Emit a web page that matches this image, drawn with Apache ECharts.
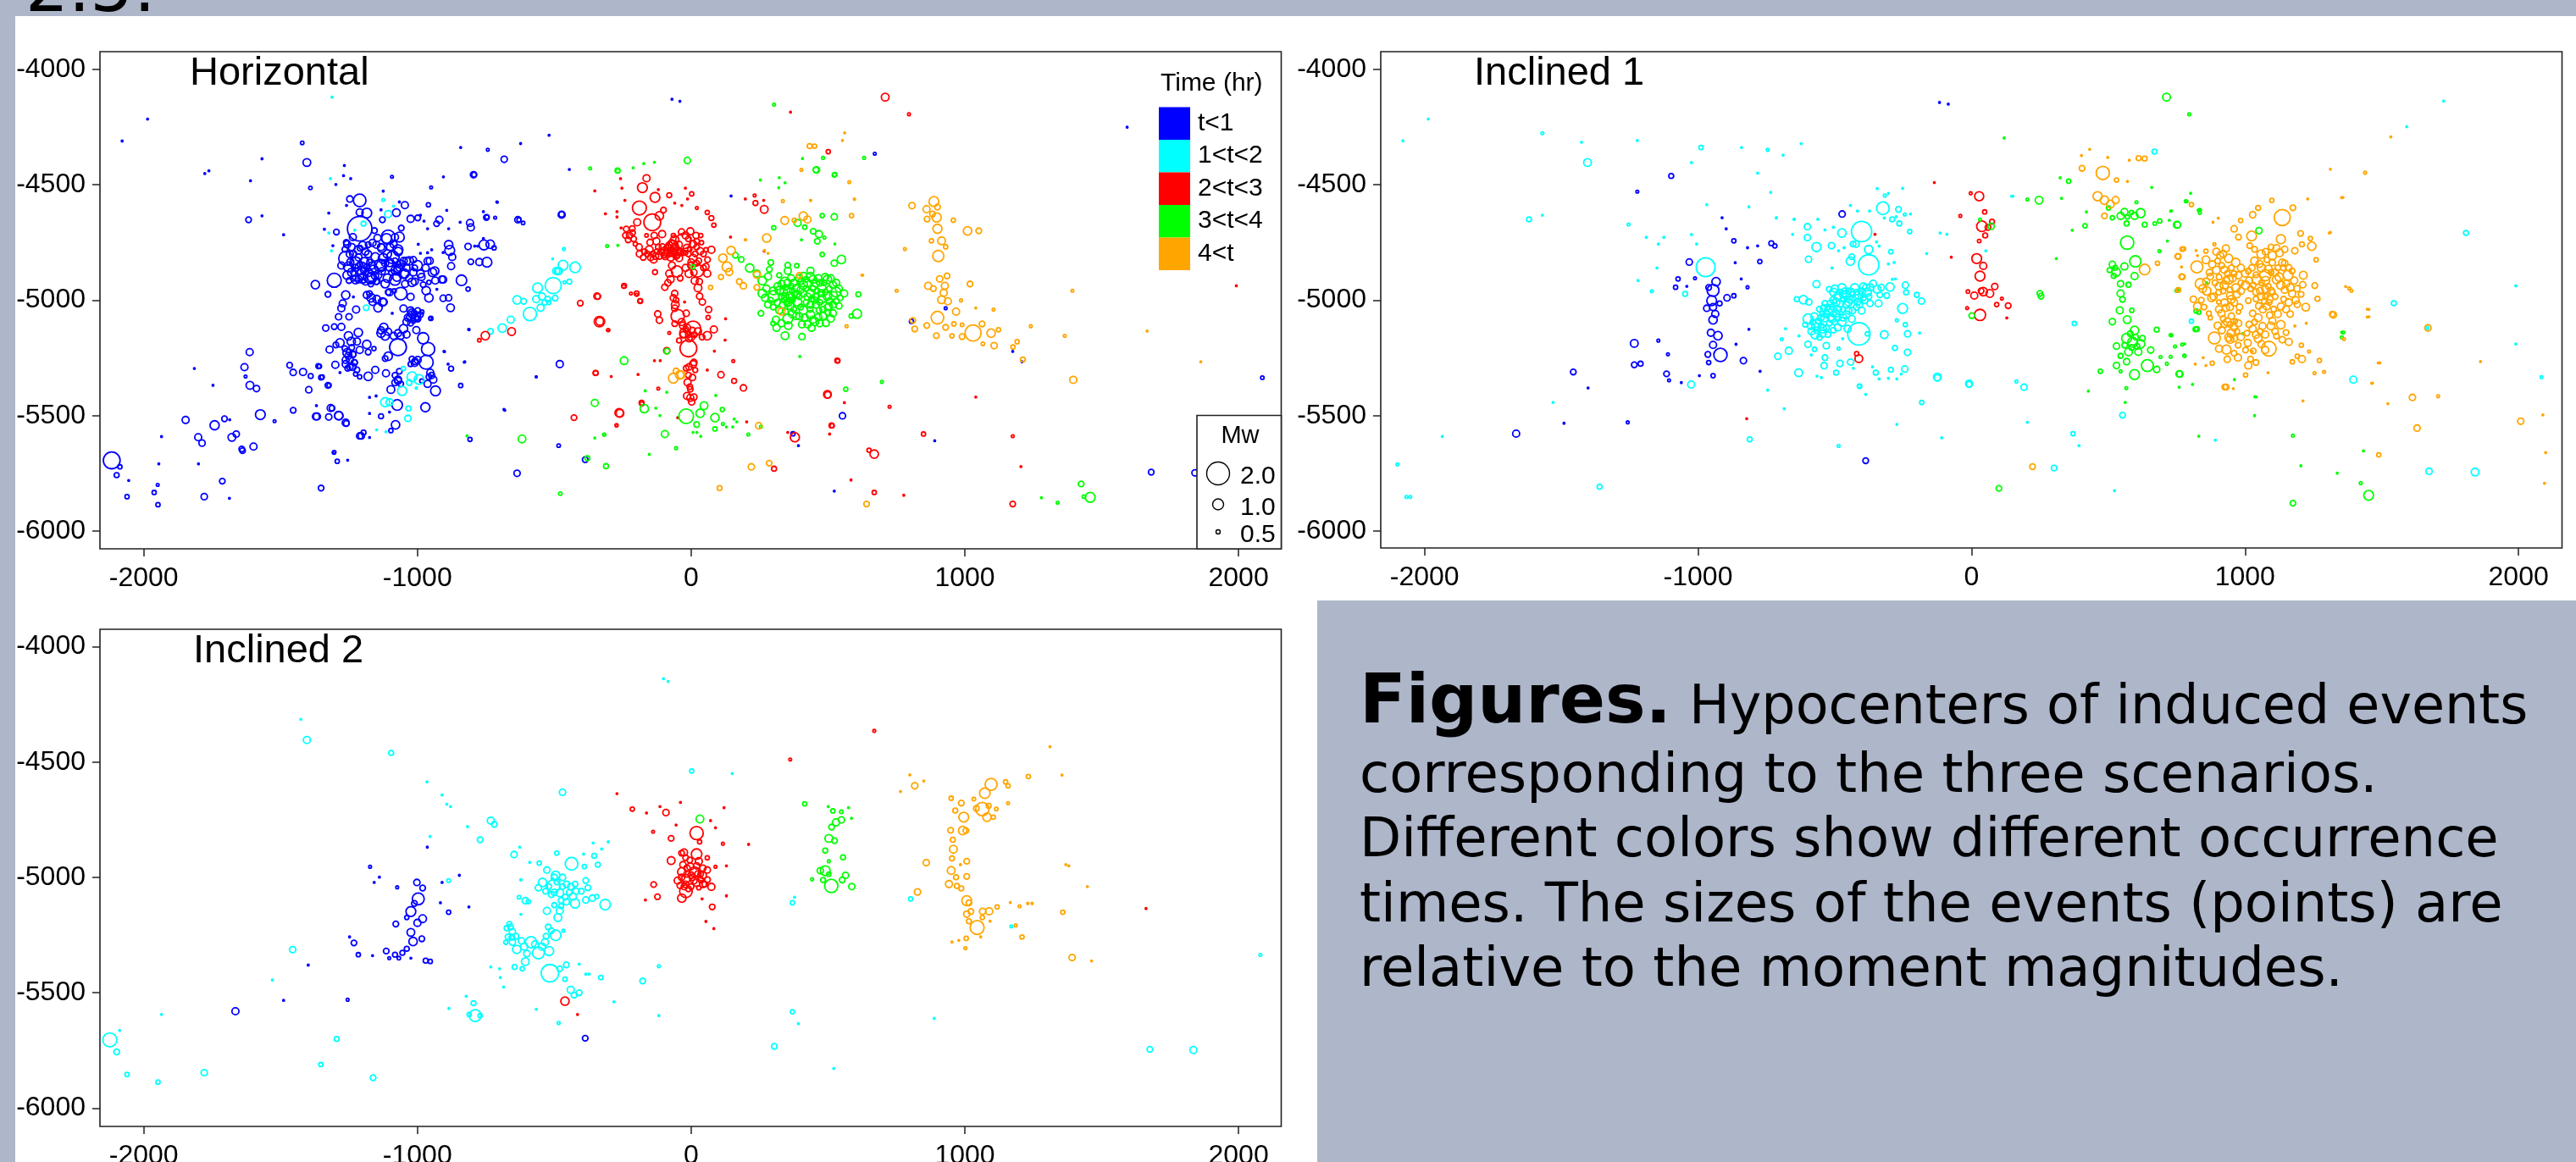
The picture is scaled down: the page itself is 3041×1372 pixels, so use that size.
<!DOCTYPE html>
<html><head><meta charset="utf-8">
<style>html,body{margin:0;padding:0;background:#aeb6ca;overflow:hidden}#c{width:3041px;height:1372px}</style>
<script src="https://cdn.jsdelivr.net/npm/echarts@6/dist/echarts.min.js"></script></head>
<body><div id="c"></div><script>
// Each event: [x, depth, Mw]; a missing Mw is a very small event.
const xTicks=[-2000,-1000,0,1000,2000];
const yTicks=[-6000,-5500,-5000,-4500,-4000];
const timeLabels=['t<1','1<t<2','2<t<3','3<t<4','4<t'];
const timeColors=['#0000ff','#00ffff','#ff0000','#00ff00','#ffa500'];
const mwLegend=[2,1,0.5];
const mwLegendDiameter=[27,13,5];
const captionLines=['corresponding to the three scenarios.','Different colors show different occurrence','times. The sizes of the events (points) are','relative to the moment magnitudes.'];

const hBlue=[[-1211,-4568,.9],[-1185,-4623,.7],[-1211,-4620,.5],[-1247,-4562,.45],[-1046,-4589,.5],[-1211,-4691,1.75],[-1128,-4652,.4],[-1077,-4621,.55],[-1025,-4648,.5],[-999,-4644,.4],[-920,-4652,.5],[-930,-4669,.4],[-808,-4666,.5],[-805,-4685,.5],[-960,-4587,.3],[-795,-4457,.45],[-633,-4652,.45],[-748,-4642,.4],[-473,-4630,.5],[-1157,-4699,.4],[-1296,-4705,.4],[-1107,-4727,1],[-1146,-4731,.5],[-1066,-4727,.7],[-1059,-4688,.4],[-886,-4760,.6],[-882,-4785,.7],[-873,-4813,.5],[-877,-4853,.5],[-815,-4768,.45],[-757,-4761,.7],[-734,-4758,.6],[-720,-4774,.3],[-805,-4834,.4],[-774,-4835,.5],[-746,-4836,.7],[-839,-4914,.75],[-815,-4952,.3],[-1373,-4933,.6],[-1327,-4975,.4],[-1304,-4914,1],
[-1262,-4819,1],[-1252,-4856,.7],[-1226,-4837,.8],[-1206,-4862,.9],[-1195,-4837,.7],[-1240,-4880,.6],[-1218,-4890,.9],[-1200,-4905,.7],[-1180,-4880,.6],[-1170,-4905,.8],[-1160,-4870,.7],[-1145,-4890,.6],[-1135,-4850,.9],[-1125,-4820,.7],[-1110,-4800,.6],[-1100,-4850,.8],[-1090,-4815,.9],[-1078,-4870,.7],[-1070,-4790,.6],[-1060,-4845,.6],[-1050,-4830,.5],[-1040,-4860,.5],[-1030,-4830,.6],[-1015,-4880,.5],[-1000,-4850,.7],[-985,-4900,.5],[-970,-4860,.5],[-955,-4830,.5],[-945,-4880,.6],[-935,-4915,.5],
[-1235,-4800,.5],[-1215,-4815,.5],[-1190,-4790,.5],[-1245,-4835,.5],[-1228,-4860,.5],[-1210,-4845,.4],[-1198,-4870,.4],[-1185,-4855,.4],[-1175,-4835,.4],[-1165,-4850,.5],[-1155,-4895,.5],[-1190,-4920,.5],[-1170,-4930,.4],[-1215,-4910,.5],[-1235,-4905,.4],[-1250,-4915,.4],[-1150,-4920,.4],[-1130,-4875,.5],[-1118,-4840,.5],[-1082,-4830,.4],[-1072,-4845,.4],[-1065,-4860,.5],[-1095,-4880,.4],[-1110,-4905,.6],[-1050,-4885,.7],[-1030,-4905,.5],[-1010,-4860,.4],[-1075,-4900,.6],[-1045,-4930,.5],[-1010,-4920,.5],[-1150,-4760,.5],[-1130,-4775,.6],[-1100,-4770,.5],[-1180,-4760,.4],[-1210,-4775,.4],[-1240,-4770,.5],[-1260,-4750,.4],[-1265,-4780,.4],
[-1061,-4972,.9],[-1025,-4986,.5],[-1144,-5033,.6],[-1169,-4990,.6],[-1123,-5008,.5],[-1107,-4966,.4],[-1085,-4960,.3],[-1185,-4978,.5],[-1262,-4978,.6],[-1273,-5014,.5],[-1278,-5035,.5],[-1224,-5041,.5],[-1288,-5072,.45],[-1250,-5072,.45],[-958,-4990,.6],[-968,-4959,.6],[-979,-4933,.4],[-958,-4923,.3],[-906,-4911,.5],[-906,-4992,.45],[-886,-4990,.45],[-879,-5033,.55],
[-1051,-5036,.5],[-1025,-5045,.5],[-1004,-5069,.6],[-1020,-5063,.5],[-989,-5063,.4],[-1015,-5088,.4],[-1025,-5100,.4],[-999,-5045,.4],[-984,-5051,.3],[-951,-5079,.3],[-953,-5079,.2],[-1040,-5094,.5],[-1012,-5055,.4],[-1030,-5075,.4],[-998,-5080,.4],
[-1123,-5118,.6],[-1133,-5143,.6],[-1107,-5137,.5],[-1071,-5143,.5],[-1051,-5124,.6],[-1061,-5155,.5],[-1004,-5130,.5],[-979,-5165,.8],[-961,-5212,.95],[-1071,-5204,1.2],[-1107,-5243,.6],[-1118,-5253,.4],[-999,-5259,.5],[-1020,-5255,.4],[-968,-5269,1],[-1010,-5272,.5],[-1066,-5308,.4],[-1115,-5317,.5],[-1154,-5302,.5],[-1180,-5330,.6],[-1211,-5332,.3],[-1226,-5320,.3],
[-1335,-5121,.45],[-1304,-5115,.4],[-1278,-5116,.5],[-1216,-5140,.6],[-1252,-5155,.6],[-1242,-5179,.6],[-1221,-5179,.5],[-1283,-5185,.6],[-1298,-5194,.4],[-1321,-5214,.5],[-1185,-5192,.6],[-1211,-5216,.5],[-1180,-5225,.4],[-1159,-5210,.3],[-1252,-5241,.5],[-1247,-5259,.5],[-1262,-5277,.5],[-1237,-5289,.5],[-1221,-5302,.4],[-1300,-5280,.5],[-1362,-5286,.35],[-1352,-5335,.35],[-1327,-5369,.4],[-1250,-5225,.4],[-1240,-5205,.4],[-1265,-5210,.4],[-1235,-5235,.4],[-1230,-5270,.4],[-1255,-5295,.4],
[-1071,-5350,.5],[-1097,-5387,.55],[-1082,-5326,.4],[-953,-5314,.5],[-942,-5344,.5],[-963,-5363,.5],[-934,-5393,.7],[-984,-5350,.3],[-1074,-5454,.75],[-971,-5464,.65],[-1317,-5467,.5],[-1288,-5500,.6],[-1371,-5504,.5],[-1324,-5506,.45],[-1262,-5531,.5],[-1133,-5503,.35],[-1080,-5540,.6],[-1097,-5565,.3],[-1211,-5588,.45],[-1197,-5574,.35],[-1305,-5660,.25],
[-1986,-4216],[-2079,-4311],[-1421,-4319,.25],[-1404,-4404,.55],[-1568,-4388],[-1777,-4452],[-1762,-4440],[-1610,-4483],[-1391,-4514,.25],[-1617,-4652,.4],[-1568,-4635],[-1489,-4717],[-1267,-4417],[-1093,-4466,.2],[-950,-4512,.2],[-905,-4466],[-842,-4339],[-743,-4349,.2],[-683,-4390,.45],[-793,-4457,.35],[-623,-4322],[-519,-4286],[-445,-4434],[-708,-4576],[-746,-4640,.3],[-716,-4643,.2],[-629,-4652,.3],[-614,-4666,.25],[-473,-4629,.4],[-811,-5128],[-480,-5277,.5],[-566,-5332],[-827,-5267],[-877,-5297,.35],[-842,-5370,.3],[-901,-5223],
[-1815,-5296],[-1747,-5369],[-1613,-5225,.5],[-1632,-5290,.5],[-1628,-5331,.2],[-1612,-5369,.55],[-1588,-5383,.45],[-1467,-5282,.4],[-1454,-5313,.45],[-1418,-5311,.5],[-1390,-5329,.35],[-1358,-5287,.3],[-1348,-5333,.3],[-1323,-5369,.3],[-1397,-5388,.45],[-1454,-5477,.4],[-1574,-5496,.7],[-1522,-5524,.2],[-1847,-5519,.5],[-1741,-5542,.65],[-1705,-5514,.4],[-1686,-5518],[-1801,-5594,.5],[-1787,-5619,.45],[-1678,-5594,.55],[-1662,-5580,.45],[-1935,-5591],[-1599,-5634,.5],[-1642,-5645,.4],[-1639,-5652,.4],[-2117,-5694,1.2],[-2087,-5722,.3],[-2099,-5758,.35],[-1945,-5709],[-1800,-5709],[-2055,-5781],[-1962,-5833,.3],[-1949,-5800,.2],[-2061,-5851,.3],[-1948,-5886,.3],[-1779,-5851,.45],[-1713,-5784,.4],[-1687,-5858],[-1352,-5814,.4],[-1293,-5698,.3],[-1303,-5658,.2],[-1255,-5693],[-1205,-5588,.45],[-808,-5603,.3],[-484,-5630,.25],[-636,-5750,.45],[-387,-5691,.4],[-681,-5477],[-1312,-5468,.4],[-1287,-5501,.6],[-1367,-5504,.5],[-1260,-5534,.4],
[1593,-4251],[-41,-4139],[-70,-4130],[671,-4366,.2],[2087,-5336,.25],[1681,-5745,.4],[1841,-5748,.45],[553,-5501,.45],[523,-5827],[890,-5609],[372,-5579,.3],[392,-5630],[146,-4549],[805,-5092,.3],[930,-5035,.2],[1175,-5222],[1209,-5267],
[-1270,-4461],[-1298,-4499],[-1244,-4474],[-1125,-4528],[-1259,-4590],[-1324,-4623],[-1133,-4609],[-1066,-4575],[-989,-4632],[-976,-4658],[-893,-4611],[-844,-4663],[-710,-4575],[-759,-4617],[-963,-4691],[-886,-4691],[-1340,-4693],[-1309,-4764],[-997,-4758],[-989,-4797],[-963,-4795],[-948,-4782],[-906,-4794],[-791,-4766],[-780,-4766],[-759,-4733],[-929,-4953],[-1234,-4986],[-813,-5127],[-1092,-5057],[-903,-5222],[-829,-5269],[-888,-5277],[-1283,-5314],[-566,-5332],[-684,-5473],[-1369,-5457],[-1175,-5421],[-1151,-5415],[-1175,-5491],[-1102,-5485],[-1175,-5595],
[-1278,-4850,.5],[-1247,-4801,.5],[-1216,-4782,.6],[-1180,-4801,.5],[-1154,-4813,.6],[-1133,-4850,.7],[-1102,-4837,.6],[-1071,-4782,.7],[-1040,-4831,.55],[-1015,-4825,.45],[-1071,-4862,.6],[-1046,-4886,.6],[-1020,-4923,.6],[-989,-4886,.55],[-963,-4831,.5],[-937,-4874,.6],[-911,-4911,.5],[-1082,-4911,.8],[-1118,-4929,.6],[-1149,-4917,.5],[-1175,-4898,.9],[-1200,-4886,.8],[-1226,-4911,.6],[-1257,-4892,.6],[-1102,-4966,.5],[-1128,-5008,.6],[-1149,-4996,.55],[-1164,-5008,.5],[-1175,-4972,.4],[-1236,-4727,.5],[-1257,-4758,.5],[-1200,-4764,.6],[-1164,-4752,.5],[-1133,-4770,.5],[-1113,-4733,.7],[-1082,-4727,.5],[-1087,-4758,.5],[-1020,-5057,.6],[-1009,-5076,.5],[-1035,-5076,.5],[-999,-5082,.4],[-1118,-5155,.6],[-1133,-5131,.5],[-1040,-5149,.5],[-1087,-5155,.5],[-1257,-5228,.6],[-1237,-5234,.5],[-1262,-5259,.5],[-1247,-5289,.45],[-1231,-5271,.45],[-948,-5326,.45],[-958,-5332,.4],[-1009,-5265,.45],[-1025,-5277,.35],[-1071,-5344,.5],[-1061,-5363,.4],[-1082,-5357,.45]];
const hCyan=[[-561,-4947,.7],[-504,-4937,1.15],[-636,-4999,.6],[-612,-5005,.4],[-589,-5060,.95],[-550,-5033,.5],[-566,-4996,.5],[-545,-4984,.5],[-524,-4996,.4],[-497,-4991,.4],[-535,-5010,.4],[-520,-5010,.3],[-659,-5085,.5],[-690,-5121,.6],[-733,-5135,.4],[-483,-4874,.5],[-468,-4849,.7],[-424,-4858,.75],[-445,-4920,.35],[-487,-4876,.5],[-465,-4779,.2],[-506,-4821],[-463,-4923,.2],[-493,-4874,.5],[-1107,-4627,.5],[-1197,-4669,.35],[-1125,-4566,.2],[-1087,-4593],[-1229,-4697],[-1324,-4709],[-1314,-4786],[-1318,-4474],[-1312,-4121],[-1187,-5033,.4],[-1051,-5296,.3],[-1020,-5332,.7],[-994,-5344,.7],[-1030,-5357,.4],[-1056,-5393,.65],[-1118,-5442,.65],[-1102,-5442,.5],[-1033,-5469,.35],[-1035,-5512,.45],[-1149,-5562],[-1115,-5570],[-1004,-5381,.15]];
const hRed=[[-189,-4601,1],[-178,-4513,.7],[-163,-4472,.5],[-132,-4555,.7],[-142,-4663,1.2],[-197,-4663,.5],[-80,-4546,.35],[2,-4540,.3],[21,-4601,.2],[59,-4620,.3],[74,-4645,.35],[83,-4675,.3],[-237,-4692,.4],[-214,-4708,.4],[-230,-4739,.4],[-204,-4757,.3],[-163,-4720,.25],[-127,-4745,.5],[-106,-4714,.5],[-101,-4610,.4],[-116,-4635,.6],[-189,-4800,.45],[-153,-4782,.55],[-137,-4824,.5],[-116,-4806,.55],[-96,-4788,.6],[-75,-4812,.6],[-65,-4763,.7],[-49,-4788,.6],[-60,-4739,.6],[-29,-4745,1.1],[-80,-4763,.5],[-85,-4794,.55],[-44,-4818,.5],[-3,-4702,.5],[18,-4720,.45],[7,-4757,.5],[38,-4751,.3],[33,-4788,.5],[7,-4818,.55],[28,-4830,.4],[74,-4782,.5],[54,-4782,.3],[54,-4855,.45],[59,-4885,.5],[23,-4873,.9],[-8,-4885,.55],[-3,-4849,.4],[-52,-4876,.8],[-132,-4879,.35],[-75,-4910,.5],[-96,-4944,.45],[-60,-4971,.45],[-58,-5020,.55],[-49,-5069,.95],[-18,-5057,.45],[-60,-5102,.4],[7,-5124,1.1],[-24,-5142,.7],[-8,-5167,.45],[-44,-5175,.35],[-10,-5209,1.2],[59,-5154,.6],[83,-5127,.5],[25,-4947,.55],[31,-4983,.45],[41,-5008,.45],[64,-5041,.45],[62,-5075,.3],[13,-4916,.5],[-245,-4938,.35],[-199,-4971,.35],[-186,-5004,.35],[-220,-4971,.2],[-344,-4983,.45],[-122,-5060,.45],[-116,-5087,.45],[-335,-5093,.75],[-302,-5130,.2],[-80,-5142,.2],[-89,-5219,.45],
[-70,-4780,.4],[-62,-4790,.4],[-55,-4775,.4],[-72,-4750,.4],[-78,-4800,.4],[-90,-4775,.4],[-100,-4805,.4],[-110,-4790,.4],[-125,-4790,.4],[-140,-4800,.4],[-170,-4790,.4],[-60,-4800,.4],[-50,-4805,.4],[-40,-4795,.4],[-30,-4795,.4],[-10,-4800,.4],[15,-4800,.4],[20,-4770,.4],[-5,-4780,.3],[-65,-4720,.3],[-20,-4795,.3],[5,-5130,.4],[-10,-5150,.4],[-20,-5125,.4],[12,-5150,.4],
[-8,-5289,.45],[7,-5277,.5],[15,-5303,.35],[-18,-5295,.4],[-13,-5356,.5],[-3,-5386,.4],[-3,-5423,.5],[2,-5441,.45],[-349,-5316,.35],[109,-5323,.45],[157,-5350,.35],[191,-5380,.45],[-120,-5383,.2],[154,-5264,.2],[-263,-5488,.6],[-181,-5444,.35],[-272,-5542,.2],[534,-5262,.35],[498,-5408,.55],[513,-5543,.35],[379,-5594,.65],[235,-4580,.35],[267,-4607,.55],[232,-4547,.2],
[709,-4121,.55],[796,-4195,.2],[501,-4357,.3],[363,-4186],[536,-5263,.3],[499,-5410,.45],[515,-5544,.3],[669,-5667,.6],[650,-5650,.3],[303,-5730,.35],[669,-5833,.3],[849,-5580,.3],[1175,-5589,.2],[1175,-5883,.4],[1205,-5721],[1040,-5420],[777,-5845],[584,-5779],[725,-5462,.2],[1992,-4938],
[-752,-5154,.6],[-774,-5174,.25],[-656,-5136,.55],[-334,-5092,.55],[-405,-5013,.4],[-341,-4984,.4],[-304,-5130,.2],[-349,-5315,.35],[-428,-5509,.4],[-260,-5490,.55],[-180,-5449,.3],[-273,-5542,.2],[-246,-4941,.25],[-199,-4977,.2],[-186,-5003,.3],
[-313,-4626],[-352,-4527],[-258,-4474],[-253,-4515],[-242,-4568],[-271,-4617],[-271,-4640],[-256,-4687],[-60,-4580],[-34,-4590],[-13,-4562],[-21,-4515],[-120,-4521],[198,-4562],[265,-4568],[144,-4727],[267,-4788],[-24,-5008],[126,-5081],[124,-5173],[85,-5221],[-134,-5262],[-113,-5262],[59,-5303],[-292,-5331],[-194,-5322],[560,-5444],[506,-5580],[353,-5573],[203,-5527],[-49,-5509],
[-60,-4770,.5],[-68,-4795,.5],[-55,-4810,.45],[-75,-4785,.45],[-45,-4760,.5],[-85,-4770,.45],[-95,-4810,.5],[-105,-4770,.45],[-120,-4770,.4],[-130,-4810,.45],[-148,-4815,.45],[-160,-4800,.4],[-175,-4815,.4],[-190,-4770,.45],[-210,-4735,.4],[-225,-4720,.45],[-240,-4720,.4],[-215,-4690,.4],[-150,-4750,.45],[-135,-4720,.45],[-20,-4720,.5],[-15,-4775,.55],[-35,-4705,.45],[-10,-4735,.4],[20,-4745,.4],[35,-4720,.3],[45,-4800,.4],[20,-4840,.4],[0,-4835,.45],[-20,-4860,.5],[-70,-4850,.5],[-80,-4885,.5],[-40,-4905,.4],[-85,-4925,.45],[10,-4880,.45],[30,-4920,.45],[45,-4860,.4],[60,-4825,.4],[-65,-4990,.45],[-55,-5000,.4],[-60,-5035,.45],[-35,-5095,.5],[-30,-5110,.5],[-15,-5120,.5],[-30,-5150,.45],[0,-5160,.5],[25,-5135,.5],[40,-5160,.4],[10,-5270,.45],[-10,-5325,.4],[5,-5335,.45],[-5,-5375,.4],[-15,-5415,.5],[10,-5420,.45]];
const hGreen=[[353,-4959,.6],[343,-4922,.7],[322,-4959,.6],[301,-4983,.8],[363,-4983,.6],[384,-4947,.5],[410,-4934,.6],[436,-4898,.6],[456,-4928,.5],[477,-4947,.6],[498,-4910,.6],[518,-4934,.5],[529,-4965,.7],[498,-4983,.6],[477,-4995,.6],[456,-4983,.5],[436,-4971,.6],[410,-4971,.5],[389,-5008,.6],[363,-5026,.5],[343,-4983,.5],[322,-5044,.5],[353,-5081,.7],[384,-5069,.5],[410,-5044,.6],[436,-5063,.6],[451,-5093,.6],[425,-5105,.5],[405,-5105,.5],[482,-5069,.5],[492,-5099,.5],[518,-5057,.5],[518,-5020,.5],[503,-5026,.5],[467,-5044,.4],[436,-5020,.5],[456,-5020,.5],[549,-4824,.6],[523,-4840,.45],[559,-4971,.5],[611,-4975,.35],[606,-5059,.65],[585,-5069,.3],[343,-5154,.55],[405,-5158,.45],[312,-5120,.5],[299,-5101,.3],[255,-5057,.4],[281,-4898,.5],[260,-4916,.6],[291,-4837,.4],[286,-4867,.4],[353,-4849,.4],[386,-4851,.3],[436,-4873,.5],[353,-4873,.5],[322,-4892,.35],
[365,-4940,.4],[370,-4960,.4],[378,-4975,.4],[360,-5000,.4],[340,-5000,.4],[350,-5015,.4],[370,-5000,.4],[330,-4985,.4],[345,-4945,.4],[395,-4985,.4],[420,-4950,.4],[400,-4920,.4],[420,-4910,.4],[445,-4950,.4],[460,-4960,.4],[485,-4925,.4],[505,-4950,.4],[490,-4965,.4],[470,-5010,.4],[440,-4995,.4],[420,-5010,.4],[400,-5030,.4],[435,-5040,.4],[480,-5040,.4],[500,-5055,.4],[530,-5005,.4],[545,-4990,.4],[375,-5040,.4],[345,-5050,.4],[300,-5030,.4],[290,-5000,.4],
[214,-4861,.6],[183,-4824,.4],[162,-4806,.4],[240,-4885,.5],[260,-4971,.6],[456,-4436,.4],[523,-4458,.3],[479,-4634,.3],[523,-4639,.45],[389,-4666,.5],[415,-4684,.3],[446,-4702,.4],[467,-4714,.5],[487,-4729,.2],[461,-4745,.4],[479,-4802,.3],[302,-4686,.3],[-14,-4395,.45],[-269,-4439,.35],[482,-4384,.2],[-245,-5262,.55],[-352,-5445,.5],[-171,-5470,.6],[565,-5386,.3],[114,-5474,.3],[87,-5509,.6],[47,-5457,.55],[33,-5490,.6],[-18,-5503,1.05],[20,-5539,.4],[87,-5558,.3],[116,-5536,.2],[-96,-5580,.5],[209,-5582,.2],[-55,-5641,.2],[-318,-5582,.2],[-88,-5221,.4],[7,-4856,.3],[-307,-4766,.2],[255,-5548,.2],
[-369,-4429,.2],[-268,-4440,.3],[-618,-5601,.55],[-819,-5588],[-379,-5685,.35],[-311,-5719,.35],[-478,-5838,.25],[-317,-5583,.2],[458,-4436,.45],[525,-4456,.3],[632,-4384,.2],[303,-4153,.2],[697,-5354,.2],[1425,-5796,.4],[1458,-5854,.7],[1435,-5851,.25],[1339,-5877,.2],[1280,-5856],
[-173,-4409],[-134,-4403],[-212,-4427],[253,-4480],[322,-4470],[343,-4492],[407,-4387],[320,-4513],[403,-4739],[525,-4757],[-268,-4763],[397,-5244],[-168,-5393],[-89,-5399],[90,-5413],[-129,-5468],[-114,-5500],[157,-5515],[167,-5527],[129,-5549],[152,-5549],[7,-5573],[21,-5573],[35,-5590],[-352,-5597],[-153,-5668],
[300,-4960,.55],[315,-4940,.5],[330,-4930,.5],[338,-4965,.55],[352,-4925,.5],[365,-4905,.5],[375,-4925,.5],[395,-4905,.5],[410,-4895,.5],[425,-4925,.55],[445,-4910,.55],[465,-4905,.5],[470,-4925,.45],[490,-4900,.5],[510,-4905,.5],[530,-4925,.5],[540,-4950,.5],[520,-4980,.55],[540,-5025,.45],[505,-5005,.45],[475,-4970,.5],[450,-5000,.45],[425,-4985,.5],[400,-4955,.5],[385,-4975,.5],[355,-5010,.55],[335,-5020,.5],[315,-5010,.45],[370,-5060,.55],[395,-5070,.5],[415,-5075,.5],[445,-5085,.5],[465,-5075,.5],[510,-5080,.5],[500,-5030,.5],[470,-5100,.5],[440,-5120,.5],[355,-5110,.55],[330,-5100,.5],[310,-5085,.5],[275,-4950,.5],[270,-4990,.5],[280,-5020,.45]];
const hOrange=[[433,-4333,.35],[451,-4333,.3],[561,-4276],[553,-4309],[403,-4436,.2],[578,-4489,.2],[335,-4571,.2],[437,-4568],[597,-4564],[586,-4634,.3],[342,-4655,.55],[377,-4654,.3],[410,-4636,.6],[425,-4651,.5],[276,-4731,.6],[199,-4739],[781,-4779,.2],[268,-4785],[146,-4785,.6],[116,-4818,.6],[131,-4856,.7],[139,-4878,.5],[109,-4900,.35],[176,-4920,.4],[191,-4938,.45],[240,-4890,.5],[240,-4945,.4],[71,-4945,.3],[330,-5050,.5],[395,-4893,.4],
[887,-4573,.7],[807,-4591,.45],[860,-4606,.5],[900,-4597,.4],[882,-4627,.4],[897,-4642,.65],[862,-4649,.4],[958,-4654,.3],[1010,-4700,.6],[1051,-4700,.4],[900,-4691,.65],[915,-4743,.55],[878,-4743,.3],[930,-4769,.3],[903,-4809,.8],[935,-4895,.4],[1019,-4930,.4],[866,-4938,.5],[908,-4908,.45],[927,-4938,.5],[885,-4950,.4],[923,-4968,.5],[915,-4998,.55],[938,-5005,.5],[968,-5050,.5],[900,-5076,.9],[861,-5110,.4],[817,-5125,.4],[810,-5088,.4],[896,-5154,.4],[930,-5118,.4],[953,-5155,.3],[960,-5103,.3],[990,-5107,.25],[990,-5158,.4],[1030,-5142,1.15],[1063,-5103,.4],[1096,-5143,.6],[1123,-5128,.3],[1107,-5197,.45],[1066,-5189,.25],[1176,-5203,.3],[1191,-5180,.3],[1212,-5257,.35],[1241,-5113,.2],[1365,-5155,.2],[1105,-5041,.2],[1040,-5034],[986,-5001,.2],[1393,-4959,.2],[751,-4959,.2],[627,-4892],[1666,-5134],[1862,-5267],[1396,-5345,.5],[247,-5544,.45],[220,-5722,.45],[285,-5706,.4],[104,-5814,.35],[641,-5883,.4],[568,-5113,.2],[-42,-5324,.6],[-65,-5338,.7],[-55,-5307,.4],[-36,-5323,.55],[198,-4739],[281,-4797],[436,-4568],[596,-4562],[624,-4892]];

const aBlue=[[-1098,-4462,.35],[-1222,-4530,.2],[-912,-4643],[-897,-4691],[-869,-4743,.3],[-732,-4754,.35],[-719,-4765,.3],[-473,-4627,.45],[-1032,-4835,.45],[-774,-4833,.3],[-864,-4838],[-819,-4773],[-782,-4765],[-1073,-4908,.3],[-1082,-4944,.3],[-1011,-4905,.2],[-842,-4908],[-819,-4944,.2],[-1041,-4940],[-934,-4920,.6],[-945,-4958,.85],[-961,-4945,.4],[-950,-5002,.7],[-921,-5014,.35],[-968,-5035,.45],[-945,-5030,.5],[-937,-5060,.5],[-945,-5085,.6],[-894,-4990,.45],[-869,-4981,.3],[-953,-5141,.5],[-927,-5154,.6],[-945,-5194,.5],[-964,-5235,.4],[-918,-5237,.95],[-961,-5270,.3],[-834,-5262,.45],[-1233,-5187,.55],[-1145,-5175,.2],[-1110,-5234,.2],[-1233,-5280,.4],[-1210,-5275,.35],[-1456,-5311,.4],[-1115,-5319,.4],[-1106,-5347,.2],[-945,-5327,.3],[-814,-5126],[-861,-5191],[-773,-5308],[-1402,-5380],[-995,-5327],[-1061,-5357],[-1490,-5533],[-1257,-5529,.2],[-1665,-5578,.5],[-387,-5695,.4],[-117,-4144],[-85,-4151]];
const aCyan=[[-1986,-4216],[-2079,-4310],[-1569,-4277,.2],[-1426,-4316],[-1404,-4404,.55],[-1222,-4309],[-989,-4339,.3],[-841,-4339],[-745,-4349,.2],[-623,-4322],[-1024,-4404],[-782,-4450],[-689,-4372],[-734,-4533],[-968,-4586],[-814,-4596],[-713,-4643],[-648,-4650],[-1618,-4650,.35],[-1569,-4632],[-1254,-4672,.2],[-1189,-4728],[-1125,-4728],[-1145,-4757],[-1024,-4716],[-1005,-4757],[-1150,-4861],[-1219,-4915],[-1169,-4961,.2],[-1047,-4973,.35],[-972,-4857,1.35],[-1530,-5443],[-1935,-5590],[-2099,-5711,.2],[-2066,-5852,.2],[-2052,-5852,.2],[-1360,-5808,.35],[-1025,-5365,.5],[-811,-5603,.35],[-745,-5390],[-685,-5470],[-486,-5631,.2],[-387,-5408],[-273,-5538],[-109,-5596],[-182,-5443,.3],[-125,-5336,.45],[-409,-5373,.3],
[-324,-4602,.9],[-267,-4607,.4],[-290,-4650,.35],[-264,-4668,.35],[-402,-4703,1.45],[-376,-4847,1.45],[-376,-4781,.6],[-474,-4709,.6],[-600,-4682,.45],[-600,-4729,.45],[-567,-4770,.65],[-512,-4764,.45],[-422,-4757,.45],[-433,-4757,.4],[-596,-4823,.45],[-443,-4831,.6],[-438,-4812,.4],[-295,-4790,.3],[-567,-4931,.5],[-615,-4998,.6],[-639,-4996,.35],[-595,-5008,.45],[-298,-4943,.6],[-242,-4935,.45],[-239,-4966,.35],[-200,-4977,.35],[-183,-5004,.45],[-252,-5036,.7],[-273,-5087,.2],[-242,-5106,.3],[-234,-5146,.45],[-319,-5149,.55],[-412,-5146,1.6],[-381,-5146,.3],
[-505,-4965,.55],[-489,-4984,.6],[-474,-4947,.6],[-458,-4977,.6],[-443,-4996,.55],[-427,-4947,.6],[-412,-4977,.6],[-396,-4941,.5],[-381,-4965,.6],[-360,-4929,.5],[-345,-4953,.55],[-335,-4977,.4],[-340,-5014,.5],[-520,-4953,.4],[-495,-5008,.55],[-417,-5008,.45],[-371,-5014,.45],[-458,-5020,.5],[-402,-5045,.5],[-480,-4965,.4],[-465,-4960,.4],[-450,-4960,.4],[-435,-4975,.4],[-420,-4965,.4],[-405,-4960,.4],[-470,-4995,.4],[-455,-4995,.4],[-395,-4990,.4],[-375,-4985,.4],
[-536,-5014,.4],[-520,-5045,.7],[-536,-5075,.6],[-556,-5039,.4],[-510,-5081,.55],[-494,-5057,.5],[-474,-5094,.6],[-458,-5063,.5],[-438,-5081,.5],[-489,-5118,.5],[-453,-5124,.5],[-598,-5081,.7],[-567,-5106,.7],[-587,-5112,.5],[-608,-5106,.35],[-546,-5124,.6],[-572,-5149,.6],[-556,-5161,.4],[-525,-5149,.4],[-598,-5191,.45],[-531,-5197,.45],[-574,-5213,.3],[-536,-5249,.4],[-539,-5284,.45],[-668,-5219,.5],[-708,-5243,.45],[-694,-5169,.2],[-632,-5314,.55],[-495,-5314,.35],[-481,-5274,.45],[-442,-5268,.45],[-350,-5314,.35],[-295,-5301,.35],[-244,-5298,.45],[-280,-5207,.35],[-234,-5226,.45],[-410,-5372,.3],[-125,-5333,.55],[-9,-5362,.5],[-486,-5210,.2],
[-525,-5030,.4],[-510,-5030,.4],[-530,-5060,.4],[-505,-5060,.4],[-545,-5060,.4],[-520,-5100,.4],[-500,-5095,.4],[-485,-5040,.4],[-470,-5040,.4],[-560,-5090,.4],[-580,-5095,.4],[-550,-5110,.4],
[-649,-4650],[-562,-4650],[-536,-4696],[-505,-4684],[-466,-4773],[-486,-4786],[-338,-4766],[-347,-4748],[-417,-4614],[-373,-4614],[-443,-4590],[-714,-4644],[-654,-4715],[-115,-4709],[-90,-4715],[-164,-4798],[-304,-4843],[-283,-4837],[-510,-4861],[-680,-5124],[-631,-5155],[-471,-5167],[-586,-5237],[-565,-5329],[-549,-5335],[-432,-5295],[-362,-5289],[-338,-5341],[-304,-5338],[-273,-5341],[-257,-5320],[-190,-5142],[-290,-4910],[-278,-4908],[-319,-4644],[-275,-4639],[-223,-4627],[-226,-4703,.3],[147,-4550],[52,-4786],[-345,-4517],[-304,-4538],[-252,-4516],[-317,-4547,.2],[-244,-4629,.2],
[1726,-4138],[1591,-4249],[669,-4357,.35],[151,-4550],[1808,-4709,.35],[1990,-4938],[1544,-5013,.35],[804,-5091,.3],[376,-5101,.3],[1667,-5120,.2],[1990,-5190],[-9,-5364,.4],[164,-5352,.2],[192,-5377,.45],[2084,-5333,.2],[1396,-5344,.5],[552,-5498,.4],[204,-5529],[371,-5578,.3],[393,-5630],[891,-5606],[302,-5727,.4],[1673,-5741,.45],[1841,-5744,.55],[523,-5825],
[-500,-4950,.5],[-470,-4975,.5],[-440,-4965,.5],[-425,-4990,.5],[-400,-4965,.5],[-385,-4945,.5],[-370,-4945,.5],[-390,-5000,.45],[-450,-5010,.5],[-480,-5015,.5],[-505,-5000,.5],[-515,-5015,.5],[-540,-5035,.5],[-530,-5060,.5],[-515,-5075,.5],[-490,-5075,.5],[-470,-5075,.5],[-450,-5045,.5],[-435,-5045,.45],[-420,-5030,.45],[-410,-5020,.45],[-550,-5075,.45],[-575,-5070,.5],[-565,-5130,.45],[-545,-5145,.5],[-585,-5135,.5],[-505,-5130,.4],[-530,-5120,.4],[-330,-4945,.45],[-310,-4980,.4]];
const aRed=[[-353,-4715],[-136,-4491],[-41,-4635,.2],[-74,-4814],[-822,-5513],[-412,-5253,.55],[-420,-5232,.3],[28,-4550,.65],[-3,-4537,.2],[48,-4618,.3],[75,-4660,.35],[38,-4680,.75],[60,-4685,.4],[50,-4720,.35],[28,-4744,.25],[19,-4820,.7],[43,-4852,.5],[31,-4896,.7],[85,-4941,.45],[43,-4963,.6],[10,-4980,.5],[67,-4971,.55],[35,-4960,.4],[-13,-4963,.25],[92,-5019,.3],[134,-5024,.4],[31,-5064,.8],[-16,-5034,.2],[129,-5077],[111,-4993,.2]];
const aGreen=[[1,-5067,.4],[72,-4680,.45],[31,-4651,.2],[119,-4298],[247,-4567,.55],[204,-4564,.2],[355,-4485,.3],[324,-4470],[329,-4559],[250,-4971,.4],[254,-4983,.4],[310,-4820],[415,-4678,.3],[368,-4697],[420,-4618],[713,-4121,.55],[796,-4195,.2],[659,-4512],[801,-4537],[786,-4572,.2],[835,-4609,.2],[835,-4622,.2],[753,-4673,.45],[688,-4657,.3],[670,-4668,.25],[731,-4613],[716,-4744],[687,-4788,.2],[755,-4960,.2],[831,-5052,.3],[824,-5125,.35],[566,-5381,.2],[562,-5443],[427,-5394],
[501,-4601,.3],[559,-4618,.5],[545,-4635,.5],[618,-4623,.65],[596,-4635,.5],[633,-4673,.35],[515,-4643,.3],[603,-4576,.2],[567,-4668,.35],[570,-4640,.3],[585,-4620,.3],
[569,-4751,.95],[599,-4832,.8],[515,-4845,.45],[529,-4879,.6],[559,-4854,.5],[596,-4896,.5],[545,-4929,.45],[574,-4933,.35],[545,-4971,.5],[552,-4997,.4],[542,-5044,.5],[569,-5084,.55],[515,-5093,.45],[586,-5044,.3],[505,-4870,.35],[525,-4860,.35],[520,-4895,.35],
[596,-5131,.6],[567,-5165,.7],[589,-5182,.7],[618,-5190,.6],[530,-5199,.45],[574,-5224,.55],[610,-5224,.5],[655,-5216,.45],[545,-5241,.35],[530,-5283,.45],[567,-5266,.45],[643,-5283,.85],[596,-5322,.7],[677,-5300,.45],[677,-5128,.35],[471,-5308,.3],[545,-5308,.2],[762,-5320,.45],[731,-5152,.2],[779,-5241,.2],[691,-5246,.2],[714,-5275,.2],[779,-5190],[580,-5145,.4],[600,-5160,.4],[605,-5200,.4],[585,-5205,.4],[560,-5195,.4],[625,-5165,.4],
[100,-5815,.4],[1175,-5586,.2],[1175,-5879,.4],[1452,-5845,.7],[1423,-5792,.2],[1337,-5749],[1433,-5653],[1204,-5717],[831,-5589],[1035,-5500],[1040,-5419],[1051,-4699,.45],[1359,-5140,.2],[751,-4674,.5],[783,-4571,.2],[831,-4611,.2],[728,-4615],[723,-4654],[860,-4925],[821,-5047,.3],[819,-5126,.35],[728,-5151,.2],[744,-5200,.2],[770,-5192,.2],[728,-5245,.2],[778,-5240,.2],[759,-5319,.45],[808,-5365],[759,-5377],[991,-5145],[749,-4959,.2],[1353,-5139],[1354,-5161,.2],[1036,-5418],[961,-5344]];
const aOrange=[[404,-4429,.4],[480,-4449,.95],[402,-4374],[432,-4347],[498,-4382],[577,-4394],[611,-4385,.35],[633,-4387,.35],[530,-4480,.3],[570,-4486],[461,-4550,.65],[486,-4567,.6],[527,-4567,.5],[508,-4584,.55],[486,-4635,.4],[1533,-4293],[1439,-4448,.2],[1312,-4433],[1358,-4555],[1312,-4707],[804,-4586,.3],[775,-4778,.3],[756,-4811,.4],[680,-4840,.3],[633,-4867,.75],[771,-4899,.4],[757,-4955,.3],[1381,-4949,.2],[1323,-5064,.45],[1453,-5040],[1453,-5072],[1669,-5120,.45],[1362,-5168,.2],[1493,-5271],[1861,-5266],[1466,-5359],[1612,-5421,.45],[1706,-5416,.2],[1522,-5448],[1629,-5554,.45],[2008,-5524,.45],[2089,-5497],[1489,-5670,.3],[2099,-5660],[2095,-5793],[223,-5721,.4],[931,-5376,.4],[1212,-5436],
[1136,-4642,1.15],[1175,-4600,.4],[1048,-4601,.35],[1028,-4630,.45],[1098,-4568,.3],[984,-4655,.3],[960,-4691,.45],[1024,-4722,.7],[1131,-4736,.65],[1203,-4711,.4],[1244,-4766,.6],[1182,-4786,.45],[1208,-4758,.35],[1239,-4733,.3],[1260,-4825,.3],[1213,-4892,.55],[1255,-4937,.4],[1211,-4933,.45],[1265,-4994,.35],[1222,-5030,.55],[1191,-5018,.45],[1319,-5061,.4],[1136,-5171,.45],[1160,-5181,.5],[1206,-5195,.3],[1234,-5222,.2],[1272,-5261,.3],[1208,-5255,.5],[1173,-5267,.3],[1191,-5243,.3],[1289,-5310,.2],[1254,-5316,.2],[926,-5376,.4],[1002,-5324,.3],[1012,-5283,.5],[974,-5249,.5],[935,-5256,.45],[880,-5273,.3],[888,-5164,.85],[932,-5214,.65],[940,-5161,.55],[1002,-5216,.4],[1087,-5210,1.05],[1074,-5216,.5],[1048,-5167,.55],[1095,-5112,.55],[1131,-5106,.6],[1028,-5057,.45],[976,-5051,.3],[826,-5027,.55],[811,-4996,.45],[837,-4929,.75],[878,-4990,.55],[873,-4898,.45],[824,-4856,.85],[857,-4825,.55],[770,-4779,.3],[754,-4810,.4],[768,-4898,.4],[754,-4956,.3],
[909,-4807,.5],[930,-4776,.5],[940,-4819,.6],[966,-4837,.6],[924,-4868,.5],[940,-4911,.65],[966,-4947,.6],[924,-4935,.6],[904,-4966,.4],[976,-4892,.5],[1012,-4874,.4],[1002,-4935,.6],[1043,-4911,.7],[1074,-4892,.8],[1053,-4843,.5],[1059,-4801,.6],[1100,-4807,.6],[1126,-4795,.55],[1136,-4837,.5],[1100,-4837,.45],[1157,-4892,.7],[1172,-4874,.4],[1131,-4935,.6],[1151,-4929,.5],[1115,-4911,.6],[1059,-4984,.5],[1074,-4953,.5],[1090,-4996,.5],[1079,-5027,.5],[1105,-5039,.4],[1131,-5027,.5],[1141,-4996,.4],[1172,-4972,.5],[930,-5033,.5],[914,-5057,.5],[950,-5069,.45],[935,-5094,.55],[960,-5118,.5],[950,-5143,.6],[1048,-5076,.55],[1028,-5124,.5],[1007,-5143,.4],[1064,-5112,.5],[1074,-5149,.5],[1012,-5002,.4],[976,-4727,.4],[1017,-4764,.4],[857,-4788,.3],[888,-4758,.2],[950,-4996,.55],[904,-5008,.3],[868,-5057,.35],[873,-5076,.3],
[900,-4830,.4],[915,-4850,.4],[935,-4885,.4],[950,-4860,.4],[960,-4885,.4],[905,-4900,.4],[890,-4925,.4],[920,-4960,.4],[945,-4955,.4],[985,-4925,.4],[1020,-4950,.4],[1060,-4925,.4],[1085,-4940,.4],[1100,-4965,.4],[1075,-4985,.4],[1088,-5010,.4],[1070,-5005,.4],[1095,-4880,.4],[1120,-4860,.4],[1140,-4860,.4],[1080,-4825,.4],[1030,-4935,.4],[1040,-4890,.4],[920,-5080,.4],[945,-5105,.4],[970,-5135,.4],[965,-5090,.3],[1055,-5135,.4],[1035,-5095,.4],
[883,-4663],[902,-4645],[1308,-4709],[1353,-4556],[1229,-4562],[821,-4785],[826,-4807],[768,-4856],[1447,-5039],[1447,-5073],[1368,-4941],[1389,-4959,.2],[1487,-5272],[1463,-5360],[957,-5383],[1084,-5314],[1224,-5100],[1182,-5112],[818,-5277],[857,-5283],[847,-5249],[1026,-5222],
[880,-4845,.5],[895,-4870,.55],[870,-4880,.45],[858,-4920,.5],[845,-4950,.55],[860,-4960,.6],[885,-4985,.5],[905,-4940,.55],[930,-4915,.5],[955,-4905,.5],[945,-4980,.5],[970,-4975,.5],[985,-4860,.5],[1000,-4885,.5],[1025,-4860,.45],[1035,-4830,.55],[1060,-4860,.6],[1085,-4865,.55],[1110,-4880,.5],[1125,-4900,.6],[1145,-4840,.45],[1160,-4860,.45],[1180,-4915,.5],[1145,-4955,.5],[1165,-4945,.55],[1190,-4950,.45],[1205,-4975,.4],[1185,-5000,.5],[1160,-5010,.5],[1150,-5040,.5],[1165,-5060,.45],[1120,-5060,.5],[1100,-5090,.5],[1090,-5065,.45],[1065,-5040,.5],[1050,-5025,.45],[1040,-4995,.4],[1095,-4960,.5],[1110,-4985,.4],[1075,-4915,.6],[1055,-4960,.5],[1040,-4965,.45],[1015,-4915,.5],[985,-4960,.5],[960,-5010,.5],[980,-5030,.45],[945,-5030,.5],[905,-5040,.5],[925,-5010,.5],[900,-5110,.5],[915,-5130,.5],[925,-5105,.45],[975,-5100,.5],[985,-5160,.5],[1015,-5105,.45],[1010,-5185,.5],[1040,-5150,.5],[1060,-5190,.5],[1110,-5135,.45],[1115,-5155,.4],[1150,-5140,.4],[945,-5170,.55],[960,-5165,.5],[905,-5210,.5],[975,-5195,.4],[960,-5230,.4],[1030,-5220,.4],[1020,-5255,.4],[1040,-5270,.4],[850,-5030,.4],[840,-5000,.4],[920,-4800,.5],[895,-4790,.5],[1115,-4775,.5],[1145,-4780,.45],[1095,-4770,.4],[1075,-4790,.45],[1035,-4780,.4]];

const bBlue=[[-1173,-4954,.2],[-1139,-4999],[-1158,-5022],[-1074,-5043,.2],[-964,-4869],[-1002,-5022,.45],[-981,-5046,.4],[-997,-5093,.85],[-1011,-5113,.4],[-1024,-5148,.7],[-1039,-5174,.3],[-981,-5179,.55],[-1000,-5197,.5],[-1079,-5202,.4],[-1024,-5238,.55],[-1016,-5278,.6],[-984,-5266,.4],[-1232,-5284,.4],[-1248,-5258],[-1216,-5335,.3],[-1114,-5319,.4],[-1082,-5335,.35],[-1055,-5327,.35],[-1039,-5309,.35],[-1068,-5350,.25],[-1103,-5350,.2],[-1024,-5350],[-970,-5361,.35],[-953,-5364,.3],[-1164,-5339],[-1399,-5380],[-886,-5151,.3],[-916,-5110],[-812,-5128],[-847,-4991],[-910,-5022],[-1489,-5533],[-1255,-5530,.2],[-1665,-5580,.5],[-387,-5697,.4]];
const bCyan=[[-1426,-4315],[-1404,-4405,.5],[-1096,-4461,.35],[-965,-4586],[-910,-4643],[-893,-4683],[-879,-4693],[-954,-4823],[-817,-4780],[-732,-4754,.5],[-719,-4770,.4],[-771,-4837,.4],[-470,-4631,.45],[-647,-4901,.45],[-626,-4869],[-886,-5014,.25],[-1456,-5313,.45],[-1530,-5445],[-1935,-5594],[-2124,-5704,1],[-2099,-5756,.4],[-2088,-5663],[-2061,-5854,.3],[-1948,-5887,.3],[-1779,-5846,.45],[-1353,-5811,.3],[-1295,-5700,.35],[-1162,-5868,.4],[-789,-5599,.85],[-811,-5594,.3],[-771,-5599,.3],[-795,-5545,.35],[-822,-5515],[-885,-5568],[-484,-5631,.2],[-566,-5571],[-330,-5434,.3],[-177,-5449,.4],[-118,-5385,.2],[-282,-5539],[-118,-5599],[-101,-4139],[-84,-4151],
[-491,-4895,.3],[-555,-4938,.3],[-437,-4941,.9],[-354,-4907,.35],[-341,-4945,.35],[-390,-4953,.3],[-527,-4968,.45],[-495,-4991,.6],[-543,-5022,.6],[-558,-5045,.45],[-532,-5060,.4],[-503,-5037,.9],[-480,-5067,.55],[-511,-5075,.4],[-424,-5029,.4],[-385,-5014,.4],[-377,-5045,.4],[-401,-5060,.4],[-432,-5083,.5],[-456,-5106,.45],[-424,-5113,.65],[-385,-5098,.45],[-361,-5090,.45],[-345,-5083,.3],[-314,-5118,.75],[-480,-5144,.5],[-527,-5145,.5],[-487,-5174,.55],[-606,-5101,.45],[-595,-5105,.3],[-629,-5086,.25],[-522,-5215,.4],[-495,-5251,.75],[-511,-5231,.4],[-467,-5231,.2],[-490,-5020,.4],[-470,-5040,.4],[-445,-5065,.4],[-500,-5120,.35],[-475,-5125,.35],
[-664,-5202,.35],[-674,-5220,.35],[-653,-5235,.45],[-669,-5258,.4],[-653,-5281,.45],[-637,-5312,.6],[-677,-5281,.3],[-585,-5281,.8],[-558,-5327,.85],[-534,-5281,.5],[-519,-5319,.65],[-606,-5365,.55],[-645,-5388,.35],[-617,-5396,.3],[-516,-5415,1.25],[-480,-5396,.4],[-456,-5379,.4],[-461,-5441,.3],[-440,-5487,.5],[-409,-5500,.4],[-428,-5510,.4],[-732,-5388],[-700,-5396],[-697,-5434],[-685,-5475],[-409,-5376],[-385,-5419],[-372,-5419],[-590,-4935],[-393,-4899],[-358,-4851],[-327,-4877],[-303,-4846],[-622,-5011,.15],[-622,-5160],
[2,-4539,.3],[150,-4550],[370,-5110,.3],[378,-5086],[802,-5093,.3],[370,-5582,.3],[392,-5634],[888,-5611],[304,-5732,.4],[521,-5828],[1676,-5745,.4],[1835,-5748,.5],[2080,-5336,.2],[1170,-5212,.2],
[-500,-5000,.45],[-470,-5000,.45],[-455,-5030,.45],[-440,-5040,.45],[-420,-5060,.45],[-475,-5100,.4],[-500,-5065,.45],[-460,-5085,.4],[-520,-5040,.4],[-660,-5215,.4],[-655,-5260,.4],[-640,-5255,.4],[-620,-5275,.45],[-610,-5300,.5],[-600,-5330,.45],[-570,-5290,.5],[-545,-5300,.5],[-530,-5255,.4]];
const bRed=[[-461,-5536,.6],[-415,-5594],[-271,-4637],[-215,-4704,.3],[-163,-4721],[-114,-4693],[-92,-4719,.45],[-55,-4773],[-139,-4802,.2],[-73,-4831,.4],[-73,-4927,.55],[-137,-5031,.4],[-123,-5084,.4],[-167,-5098],[20,-4808,.95],[31,-4846,.3],[-26,-4892,.5],[20,-4899,.75],[59,-4915,.3],[28,-4930,.5],[-3,-4953,.5],[43,-4960,.45],[59,-4968,.45],[-34,-4976,.6],[12,-4976,.7],[43,-4991,.5],[-19,-5006,.6],[-49,-5014,.5],[20,-5022,.55],[43,-5029,.5],[-19,-5060,.9],[74,-5041,.5],[-34,-5090,.6],[28,-5045,.3],[-30,-4945,.45],[-15,-4960,.45],[5,-5000,.45],[20,-4950,.45],[-20,-5030,.45],[0,-5040,.4],[-40,-5035,.45],[60,-5010,.4],[35,-5010,.4],[-10,-5050,.4],[77,-5128,.4],[669,-4365,.2],[362,-4489,.2],[-39,-4675],[120,-4698],[71,-4754],[89,-4785],[116,-4854,.2],[210,-4857],[89,-4954,.2],[129,-4950],[129,-5080],[54,-5191],[83,-5222],[40,-5093],[1662,-5135],
[-15,-4985,.45],[0,-4990,.45],[25,-4985,.45],[-35,-5000,.45],[-25,-5040,.45],[10,-5015,.45],[35,-4985,.4],[50,-5030,.4],[-5,-4925,.4],[-20,-4915,.4],[-35,-4895,.4]];
const bGreen=[[32,-4747,.55],[415,-4681,.3],[518,-4712,.3],[549,-4716,.25],[549,-4751,.45],[529,-4762,.5],[513,-4782,.4],[503,-4831,.55],[524,-4841,.4],[490,-4884,.35],[555,-4913,.35],[503,-4930,.2],[490,-4971,.7],[472,-4971,.45],[482,-5011,.35],[564,-4991,.45],[503,-4986,.3],[552,-5011,.4],[512,-5037,.95],[587,-5040,.45],[442,-5008,.2],[575,-4698],[501,-4693],[586,-4744]];
const bOrange=[[817,-4603,.45],[799,-4556],[850,-4582],[765,-4628],[1311,-4434],[1355,-4557],[1232,-4563,.3],[1096,-4597,.85],[1073,-4635,.75],[1149,-4586,.3],[1158,-4603,.3],[1064,-4704,.95],[1081,-4739,.6],[1042,-4701,.4],[1033,-4661,.25],[1087,-4690,.35],[1115,-4704,.25],[1104,-4739,.3],[1158,-4678,.2],[950,-4657,.3],[987,-4678,.4],[965,-4710,.35],[996,-4739,.7],[992,-4797,.6],[1004,-4797,.4],[948,-4796,.4],[956,-4837,.35],[958,-4878,.55],[859,-4936,.45],[953,-4918,.35],[1007,-4930,.4],[950,-4970,.55],[1007,-4996,.4],[968,-4999,.35],[942,-5029,.5],[971,-5037,.35],[987,-5048,.35],[827,-5063,.45],[1007,-5101,.7],[1015,-5110,.4],[1022,-5148,.4],[1007,-5159,.45],[1065,-5147,.45],[1089,-5147,.5],[1015,-5190,.35],[1045,-5217,1],[1118,-5128,.3],[1064,-5174,.3],[1005,-5264,.3],[1002,-5307,.2],[1209,-5258,.3],[1358,-5151,.3],[1392,-5347,.45],[1186,-5208,.2],[1200,-5125,.2],[1230,-5113,.15],[1246,-5113,.15],[1166,-5109],[1369,-4945],[1380,-4950],[1448,-5040],[1463,-5362],[953,-5280],[978,-5273],[1058,-5258],[1092,-5190],[984,-4945]];

const panels=[
 {title:'Horizontal',grid:[118,61,1394.5,587],tx:224,ty:111,xr:[-2160,2156],yr:[-6077,-3924],series:[hBlue,hCyan,hRed,hGreen,hOrange]},
 {title:'Inclined 1',grid:[1630,61,1394.5,586],tx:1740,ty:111,xr:[-2160,2159],yr:[-6073,-3924],series:[aBlue,aCyan,aRed,aGreen,aOrange]},
 {title:'Inclined 2',grid:[118,743,1394.5,587],tx:228,ty:793,xr:[-2160,2156],yr:[-6079,-3925],series:[bBlue,bCyan,bRed,bGreen,bOrange]}
];
const GREY='#aeb6ca',FONT='"Liberation Sans",Arial,sans-serif',MWPX=16.5;
const chart=echarts.init(document.getElementById('c'),null,{renderer:'canvas'});
const grids=[],xAxes=[],yAxes=[],series=[],graphic=[];
graphic.push({type:'rect',z:-10,shape:{x:18,y:19,width:3023,height:690},style:{fill:'#fff'}});
graphic.push({type:'rect',z:-10,shape:{x:18,y:709,width:1537,height:663},style:{fill:'#fff'}});
graphic.push({type:'text',z:5,style:{x:30,y:32,text:'2.5:',font:'80px "DejaVu Sans"',fill:'#000',textVerticalAlign:'bottom'}});
const plain=v=>String(v);
panels.forEach((p,i)=>{
 grids.push({left:p.grid[0],top:p.grid[1],width:p.grid[2],height:p.grid[3],show:true,backgroundColor:'#fff',borderColor:'#222',borderWidth:1.6,containLabel:false,outerBoundsMode:'none'});
 xAxes.push({type:'value',gridIndex:i,min:p.xr[0],max:p.xr[1],splitLine:{show:false},axisLine:{show:false,onZero:false},
  axisTick:{show:true,length:9,lineStyle:{color:'#222',width:1.5},customValues:xTicks},
  axisLabel:{color:'#000',fontFamily:FONT,fontSize:32,margin:19,customValues:xTicks,formatter:plain}});
 yAxes.push({type:'value',gridIndex:i,min:p.yr[0],max:p.yr[1],splitLine:{show:false},axisLine:{show:false,onZero:false},
  axisTick:{show:true,length:9,lineStyle:{color:'#222',width:1.5},customValues:yTicks},
  axisLabel:{color:'#000',fontFamily:FONT,fontSize:32,margin:17,customValues:yTicks,formatter:plain}});
 p.series.forEach((d,k)=>series.push({type:'scatter',xAxisIndex:i,yAxisIndex:i,data:d,name:p.title+' '+timeLabels[k],
  symbol:'circle',symbolSize:v=>Math.max((v[2]||0.12)*MWPX,1.6),silent:true,animation:false,
  itemStyle:{color:'rgba(0,0,0,0)',borderColor:timeColors[k],borderWidth:1.8,opacity:1}}));
 graphic.push({type:'text',z:20,style:{x:p.tx,y:p.ty,text:p.title,font:'47px '+FONT,fill:'#000',textVerticalAlign:'bottom'}});
});
// Time legend
graphic.push({type:'text',z:20,style:{x:1370,y:114,text:'Time (hr)',font:'30px '+FONT,fill:'#000',textVerticalAlign:'bottom'}});
timeLabels.forEach((t,i)=>{
 const y0=126.5+i*38.5;
 graphic.push({type:'rect',z:20,shape:{x:1368,y:y0,width:37,height:38.5},style:{fill:timeColors[i]}});
 graphic.push({type:'text',z:20,style:{x:1414,y:y0+19,text:t,font:'30px '+FONT,fill:'#000',textVerticalAlign:'middle'}});
});
// Mw legend
graphic.push({type:'rect',z:20,shape:{x:1413,y:490.5,width:99.5,height:157.5},style:{fill:'#fff',stroke:'#222',lineWidth:1.6}});
graphic.push({type:'text',z:21,style:{x:1464,y:529,text:'Mw',font:'29px '+FONT,fill:'#000',textAlign:'center',textVerticalAlign:'bottom'}});
[559,595.5,628].forEach((cy,i)=>{
 graphic.push({type:'circle',z:21,shape:{cx:1438,cy:cy,r:mwLegendDiameter[i]/2},style:{fill:'rgba(0,0,0,0)',stroke:'#000',lineWidth:1.4}});
 graphic.push({type:'text',z:21,style:{x:1464,y:cy+4,text:mwLegend[i].toFixed(1),font:'30px '+FONT,fill:'#000',textVerticalAlign:'middle'}});
});
// Caption
graphic.push({type:'text',z:20,style:{x:1605,y:872,text:'Figures.',font:'bold 80px "DejaVu Sans"',fill:'#000',textVerticalAlign:'bottom'}});
graphic.push({type:'text',z:20,style:{x:1994,y:869,text:'Hypocenters of induced events',font:'63.5px "DejaVu Sans"',fill:'#000',textVerticalAlign:'bottom'}});
captionLines.forEach((t,i)=>graphic.push({type:'text',z:20,style:{x:1605,y:950+i*76.5,text:t,font:'64px "DejaVu Sans"',fill:'#000',textVerticalAlign:'bottom'}}));
chart.setOption({animation:false,backgroundColor:GREY,grid:grids,xAxis:xAxes,yAxis:yAxes,series:series,graphic:graphic});
</script></body></html>
